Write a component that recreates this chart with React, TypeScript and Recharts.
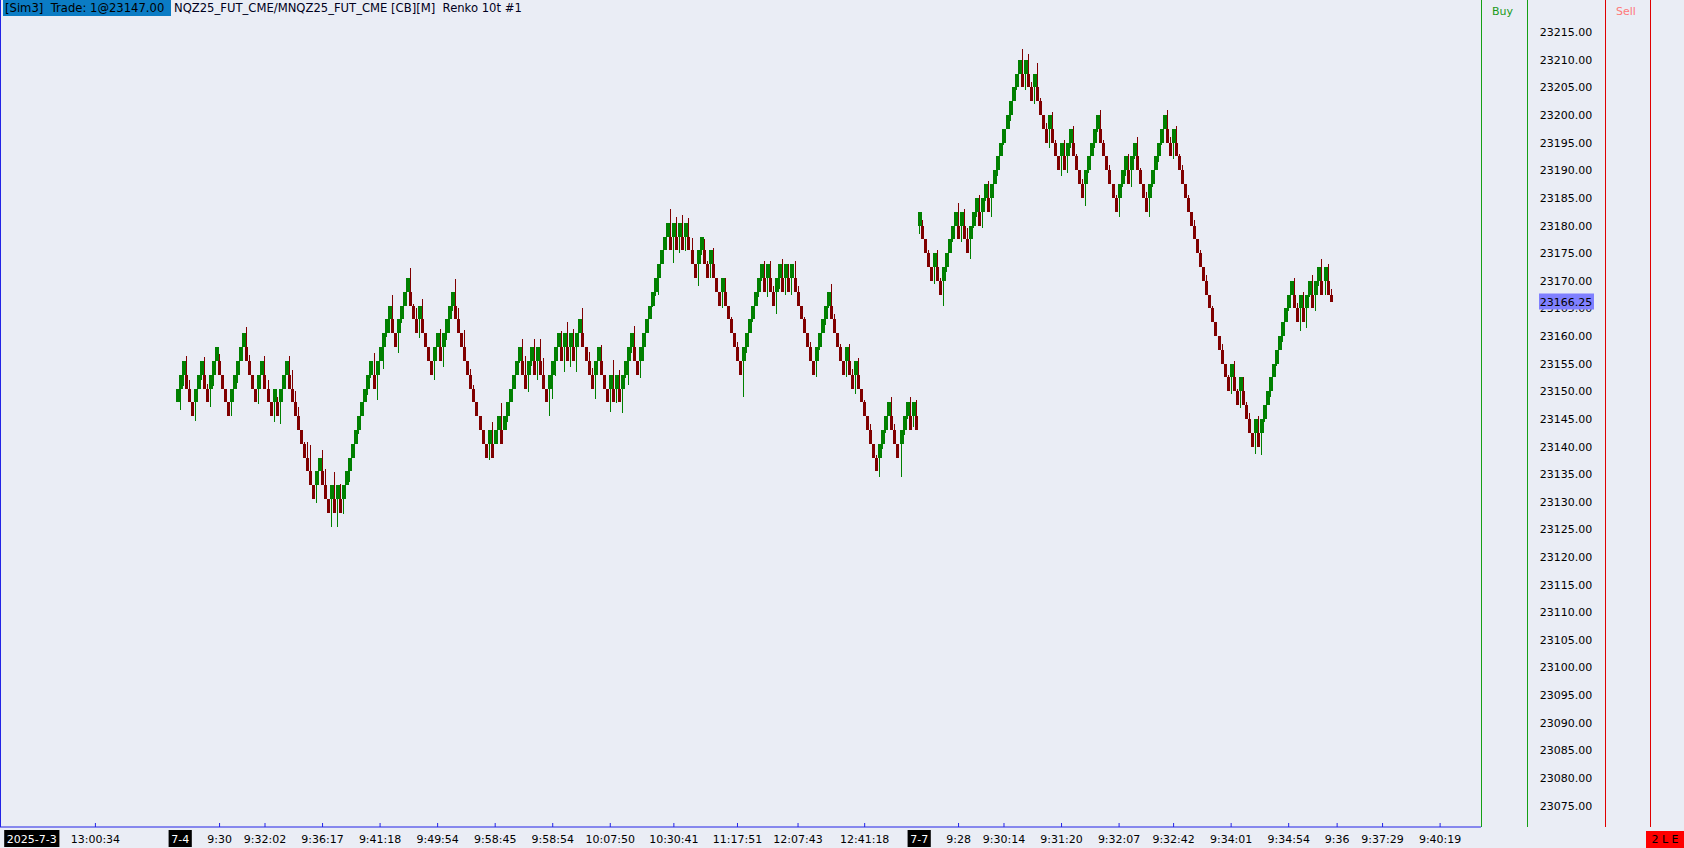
import React from 'react';
import { ComposedChart, Bar, XAxis, YAxis } from 'recharts';

// Renko 10t on NQ: one brick = 2.5 points. G = brick up, R = brick down.
const BRICK = 2.5;
const lastPrice = 23166.25;
const lastWick = 1;

// 7-4 session
const session1Base = 23145.5;
const session1Moves = [
  'GGGRRRGGGRRGGGRRRRGGGGGRRRRGGRRRGRG',
  'GGRRRRRRRRRGGRRRGRGRGGGGGGGGGGRGGGG',
  'GRRGGGGRRRGRRRRGGRGGGGRRRRRRRRRRRGR',
  'GGRGGGGGGRRGGRGRRRGGGGRGRGRGGRRRRGG',
  'RRRGRGRGGGGRRGGGGGGGGGGRGRGRGRRRGGR',
  'RGRRRGRRRRRRGGGGGGGRGRRGGRGRGRRRRRR',
  'RGGGGGRRRRRGRRGRRRRRRRGGGGRRRGGGRGR',
].join('');
const session1Wicks = [
  0, 3.9, 2.1, 3.3, 1.6, 0, 3.4, 0, 1, 3.2, 0.8, 3.3, 2.1, 0, 1.2, 0, 0, 0, 2.5, 0, 1.5, 0, 0, 3.6, 1, 0, 0, 2.8, 0, 3.3, 1.6, 0, 3.6, 0.9, 3.9,
  0, 0, 3.3, 3.4, 2, 1.6, 0, 0.3, 2.8, 4.8, 0, 3.3, 0, 3.8, 2.9, 0, 5, 4.8, 5, 2.8, 2.7, 0, 2, 0, 0, 0.8, 0, 0, 1.1, 0.6, 3.9, 4.5, 0, 3.9, 0.6,
  2.4, 4.5, 0, 3.6, 0.6, 0, 0, 4.3, 0.3, 2, 3.3, 3.7, 0, 0, 0, 3.4, 0, 3.3, 3.6, 1.3, 2.5, 0.9, 4.8, 2.1, 0, 3.1, 0, 1, 0.7, 0, 0, 0, 0, 2.9, 4,
  0, 0, 4.8, 0, 1, 0, 0, 0, 0.3, 3.9, 3.3, 3.1, 1, 3.9, 3.4, 3.9, 3, 0, 4.9, 4.4, 2.8, 0, 2.9, 4.6, 4.5, 3.6, 3.3, 4.5, 0, 4.5, 0, 1.6, 1.3, 4.4, 0,
  2.8, 0, 0, 4.2, 5.1, 2.6, 3.3, 4.4, 0.6, 4.3, 1, 3.9, 0, 3.1, 2.5, 0, 0, 0.3, 0.7, 3.1, 0, 0, 0, 5, 4.7, 3.6, 3, 3.9, 2.6, 3.3, 2.2, 0, 3.9, 0.8, 2,
  0.5, 2.5, 3, 0, 0, 3, 2.5, 0, 0.5, 0, 1, 0, 6.5, 1, 0, 0.5, 0, 1, 0.5, 3, 3.5, 3, 1, 4, 2, 3.5, 3, 2.5, 3, 3, 1, 0, 0.5, 0, 1,
  0, 3, 0.5, 0, 1, 0.5, 4, 1, 0, 0.5, 0, 3, 3, 1, 3.5, 3, 0, 0.5, 0, 1, 0, 0.5, 3.5, 1, 0.5, 0, 3.5, 1, 0, 6, 1, 0.5, 3.5, 2, 3,
];

// 7-7 session
const session2Base = 23177.5;
const session2Moves = [
  'GRRRRGRRGGGGGRGRRGGGRGGR',
  'GGGGGGGGGGRGRRGRRRRGRRRGRGGRRRRGGGGG',
  'RRRRRRGGGRGGRRRRGGGGGG',
  'RRGRRRRRRRRRRRRRRRRRRGRRGRRRRGR',
  'GGGGGGGGGGGRRGRGGRGGRGR',
].join('');
const session2Wicks = [
  1.5, 1, 0, 0.5, 0, 3, 3, 0.5, 4.5, 1, 0, 0.5, 0, 4, 3, 3, 2, 3.5, 0.5, 1, 3, 3, 0.5, 3,
  3.5, 0, 1, 0, 0.5, 0, 1, 0, 0.5, 0, 4.5, 3, 3.5, 1, 3, 4.5, 0.5, 0, 1, 3.5, 3, 0.5, 0, 3.5, 3, 3, 1, 3, 0.5, 0, 1, 4, 0.5, 0, 1, 0.5,
  3.5, 0.5, 0, 1, 0, 0.5, 3.5, 0.5, 1, 3, 3, 0.5, 3.5, 0.5, 0, 1, 3.5, 0.5, 0, 1, 0.5, 0,
  3.5, 1, 3, 3, 0.5, 1, 0, 0.5, 0, 1, 0, 0.5, 0, 1, 0, 0.5, 0, 0, 1, 0, 0.5, 3, 3, 0.5, 3, 2.5, 0.5, 1, 0, 3.9, 3,
  4, 0.5, 0, 1, 0, 0.5, 0, 1, 0, 0.5, 0, 3, 1, 4, 3, 3.5, 0.5, 3.5, 3, 1, 4, 2.5, 3,
];

const priceTicks = [
  23215, 23210, 23205, 23200, 23195, 23190, 23185, 23180, 23175, 23170, 23165, 23160, 23155, 23150, 23145,
  23140, 23135, 23130, 23125, 23120, 23115, 23110, 23105, 23100, 23095, 23090, 23085, 23080, 23075,
];

const timeLabels = [
  '2025-7-3', '13:00:34', '7-4', '9:30', '9:32:02', '9:36:17', '9:41:18', '9:49:54', '9:58:45', '9:58:54',
  '10:07:50', '10:30:41', '11:17:51', '12:07:43', '12:41:18', '7-7', '9:28', '9:30:14', '9:31:20', '9:32:07',
  '9:32:42', '9:34:01', '9:34:54', '9:36', '9:37:29', '9:40:19',
];
// slot each label sits on
const timeLabelSlots = [
  10, 31, 59, 72, 87, 106, 125, 144, 163, 182,
  201, 222, 243, 263, 285, 303, 316, 331, 350, 369,
  387, 406, 425, 441, 456, 475,
];
const dateLabels = ['2025-7-3', '7-4', '7-7'];

const LEAD_SLOTS = 58;
const TOTAL_SLOTS = 489;
const Y_MIN = 23071.12;
const Y_MAX = 23220.83;

type Brick = { up: boolean; bodyLow: number; bodyHigh: number; range: [number, number] };

function buildSession(base: number, moves: string, wicks: number[]): Brick[] {
  let level = 0;
  const out: Brick[] = [];
  for (let i = 0; i < moves.length; i++) {
    const up = moves[i] === 'G';
    level += up ? 1 : -1;
    const bodyLow = base + level * BRICK;
    const bodyHigh = bodyLow + BRICK;
    const w = wicks[i] ?? 0;
    out.push({ up, bodyLow, bodyHigh, range: [up ? bodyLow - w : bodyLow, up ? bodyHigh : bodyHigh + w] });
  }
  return out;
}

const s1 = buildSession(session1Base, session1Moves, session1Wicks);
const s2 = buildSession(session2Base, session2Moves, session2Wicks);
// bar still forming: opens at previous close, last trade below
const prevClose = s2[s2.length - 1].bodyLow;
const partial: Brick = {
  up: false,
  bodyLow: lastPrice,
  bodyHigh: prevClose,
  range: [lastPrice, prevClose + lastWick],
};
const bricks = [...s1, ...s2, partial];

const data = Array.from({ length: TOTAL_SLOTS }, (_, i) => {
  const b = bricks[i - LEAD_SLOTS];
  return b ? { idx: i, ...b } : { idx: i };
});

const labelBySlot = new Map<number, string>();
timeLabelSlots.forEach((s, i) => labelBySlot.set(s, timeLabels[i]));

const FONT = '"DejaVu Sans", Verdana, sans-serif';
const BG = '#eaedf5';
const AXIS_BLUE = '#2323e6';

const RenkoBrick = (props: any) => {
  const { x, y, width, height, payload } = props;
  if (!payload || !payload.range || !height || isNaN(y)) return null;
  const [low, high] = payload.range;
  const k = height / (high - low);
  const top = Math.round(y + (high - payload.bodyHigh) * k);
  const bottom = Math.round(y + (high - payload.bodyLow) * k);
  const left = Math.round(x + width / 2 - 1.5);
  const color = payload.up ? '#008000' : '#800000';
  const wTop = Math.round(y);
  const wBottom = Math.round(y + height);
  return (
    <g>
      <rect x={left + 1} y={wTop} width={1} height={Math.max(1, wBottom - wTop)} fill={color} />
      <rect x={left} y={top} width={payload.up ? 4 : 3} height={Math.max(1, bottom - top)} fill={color} />
    </g>
  );
};

const PriceTick = (props: any) => {
  const { x, y, payload } = props;
  const v = payload.value as number;
  const cx = x + 85;
  if (v === lastPrice) {
    return (
      <g>
        <rect x={cx - 27} y={y - 8} width={55} height={16} fill="#8080ff" />
        <text x={cx} y={y + 4} textAnchor="middle" fontFamily={FONT} fontSize={11} fill="#000">
          {v.toFixed(2)}
        </text>
      </g>
    );
  }
  return (
    <text x={cx} y={y + 4} textAnchor="middle" fontFamily={FONT} fontSize={11} fill="#000">
      {v.toFixed(2)}
    </text>
  );
};

const TimeTick = (props: any) => {
  const { x, y, payload } = props;
  const label = labelBySlot.get(payload.value);
  if (!label) return null;
  if (dateLabels.includes(label)) {
    const w = label.length * 6.4 + 4;
    return (
      <g>
        <rect x={x - w / 2} y={y + 3} width={w} height={17} fill="#000" />
        <text x={x} y={y + 16} textAnchor="middle" fontFamily={FONT} fontSize={11} fill="#fff">
          {label}
        </text>
      </g>
    );
  }
  return (
    <g>
      <line x1={x} x2={x} y1={y - 4} y2={y} stroke={AXIS_BLUE} />
      <text x={x} y={y + 16} textAnchor="middle" fontFamily={FONT} fontSize={11} fill="#000">
        {label}
      </text>
    </g>
  );
};

const vLine = (left: number, color: string): React.CSSProperties => ({
  position: 'absolute',
  left,
  top: 0,
  width: 1,
  height: 827,
  background: color,
});

export default function App() {
  return (
    <div
      style={{
        position: 'absolute',
        left: 0,
        top: 0,
        width: 1684,
        height: 848,
        background: BG,
        fontFamily: FONT,
        overflow: 'hidden',
      }}
    >
      <ComposedChart
        width={1684}
        height={848}
        data={data}
        margin={{ top: 0, right: 0, bottom: 0, left: 0 }}
        barCategoryGap={0}
        barGap={0}
      >
        <XAxis
          dataKey="idx"
          type="category"
          ticks={timeLabelSlots}
          interval={0}
          tick={<TimeTick />}
          tickLine={false}
          tickSize={0}
          tickMargin={0}
          height={21}
          axisLine={{ stroke: AXIS_BLUE }}
        />
        <YAxis
          orientation="right"
          type="number"
          domain={[Y_MIN, Y_MAX]}
          allowDataOverflow
          ticks={[...priceTicks, lastPrice]}
          interval={0}
          tick={<PriceTick />}
          tickLine={false}
          axisLine={false}
          tickSize={0}
          tickMargin={0}
          width={203}
        />
        <Bar dataKey="range" shape={<RenkoBrick />} isAnimationActive={false} />
      </ComposedChart>

      <div style={vLine(0, AXIS_BLUE)} />
      <div style={vLine(1481, '#14a014')} />
      <div style={vLine(1527, '#14a014')} />
      <div style={vLine(1605, '#e00000')} />
      <div style={vLine(1650, '#e00000')} />

      <div style={{ position: 'absolute', left: 1492, top: 5, fontSize: 11, color: '#1a9a1a' }}>Buy</div>
      <div style={{ position: 'absolute', left: 1616, top: 5, fontSize: 11, color: '#ff7a7a' }}>Sell</div>

      <div
        style={{
          position: 'absolute',
          left: 3,
          top: 0,
          height: 16,
          width: 168,
          background: '#0b7cc4',
          color: '#000',
          fontSize: 11.6,
          lineHeight: '16px',
          whiteSpace: 'pre',
          paddingLeft: 2,
          boxSizing: 'border-box',
          overflow: 'hidden',
        }}
      >
        {'[Sim3]  Trade: 1@23147.00'}
      </div>
      <div
        style={{
          position: 'absolute',
          left: 174,
          top: 0,
          fontSize: 11.6,
          lineHeight: '16px',
          whiteSpace: 'pre',
          color: '#000020',
        }}
      >
        {'NQZ25_FUT_CME/MNQZ25_FUT_CME [CB][M]  Renko 10t #1'}
      </div>

      <div
        style={{
          position: 'absolute',
          left: 1646,
          top: 831,
          width: 38,
          height: 17,
          background: '#ff0000',
          color: '#000',
          fontSize: 11,
          lineHeight: '17px',
          textAlign: 'center',
          whiteSpace: 'pre',
        }}
      >
        {'2 L E'}
      </div>
    </div>
  );
}
